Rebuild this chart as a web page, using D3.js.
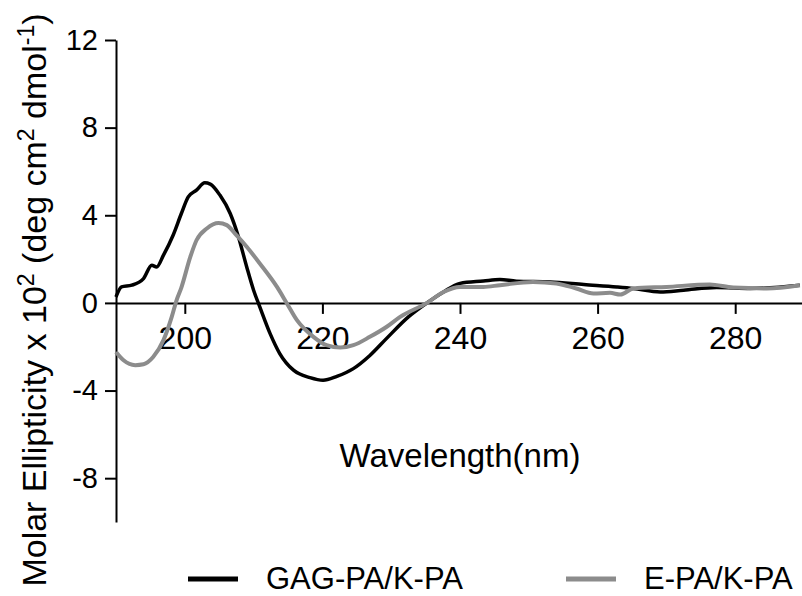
<!DOCTYPE html>
<html>
<head>
<meta charset="utf-8">
<script src="https://cdn.jsdelivr.net/npm/d3@7"></script>
<style>
  body { margin: 0; background: #fff; }
  svg { font-family: Arial, "Liberation Sans", sans-serif; }
</style>
</head>
<body>
<div id="chart"></div>
<script>
// series: wavelength (nm) and molar ellipticity (x10^2)
const gagWave = [190, 190.8, 192.3, 194, 195.2, 195.9, 196.9, 198.3, 199.5, 200.5, 201.7, 202.9, 203.7, 205.1, 206.6, 207.8, 209, 210, 210.9, 212.4, 213.8, 215.8, 218.2, 220.1, 222.1, 224.5, 226.9, 229.3, 232.5, 235.2, 237.6, 240, 243.4, 245.8, 248.2, 253.1, 258, 262.8, 265.2, 269.1, 272.5, 277.3, 282.2, 289.4];
const gagVal = [0.27, 0.73, 0.81, 1.11, 1.72, 1.64, 2.18, 3.09, 4.08, 4.84, 5.15, 5.48, 5.42, 4.92, 4.08, 3.01, 1.64, 0.58, -0.18, -1.4, -2.31, -3.07, -3.41, -3.53, -3.35, -3.0, -2.4, -1.63, -0.64, 0.0, 0.5, 0.89, 1.0, 1.07, 0.99, 0.96, 0.84, 0.73, 0.66, 0.5, 0.58, 0.7, 0.66, 0.81];

const epaWave = [190, 191.1, 192.8, 194, 195.4, 196.9, 198.1, 198.8, 199.5, 200.8, 201.7, 203.2, 204.9, 206.1, 207.5, 209, 210.9, 213.4, 214.8, 216.3, 218.7, 220.6, 222.6, 224.5, 226.9, 229.3, 231.3, 235.2, 237.6, 240, 243.4, 245.8, 250.6, 254, 256.9, 259.4, 261.8, 263.3, 265.2, 270, 276.3, 279.7, 284.6, 289.4];
const epaVal = [-2.24, -2.62, -2.84, -2.8, -2.47, -1.7, -0.64, 0.12, 0.7, 2.1, 2.86, 3.4, 3.65, 3.55, 3.09, 2.56, 1.8, 0.73, 0.0, -0.79, -1.55, -1.93, -2.04, -1.93, -1.55, -1.1, -0.64, 0.0, 0.5, 0.73, 0.73, 0.81, 0.96, 0.89, 0.66, 0.43, 0.46, 0.38, 0.66, 0.73, 0.84, 0.7, 0.66, 0.81];

const xTicks = [200, 220, 240, 260, 280];
const yTicks = [-8, -4, 0, 4, 8, 12];
const seriesNames = ["GAG-PA/K-PA", "E-PA/K-PA"];
const seriesColors = ["#000000", "#8c8c8c"];

const W = 802, H = 596;
const svg = d3.select("#chart").append("svg")
    .attr("width", W)
    .attr("height", H);

const x = d3.scaleLinear().domain([190, 290]).range([116, 804]);
const y = d3.scaleLinear().domain([-10, 12]).range([522, 40]);

// y axis
const yAxis = svg.append("g")
    .attr("transform", "translate(116,0)")
    .call(d3.axisLeft(y).tickValues(yTicks).tickFormat(d => String(d))
        .tickSize(11).tickPadding(7).tickSizeOuter(0));
yAxis.select(".domain").attr("stroke-width", 2);
yAxis.selectAll(".tick line").attr("stroke-width", 2);
yAxis.selectAll("text").style("font-size", "29px").attr("fill", "#000");

// x axis at y = 0
const xAxis = svg.append("g")
    .attr("transform", `translate(0,${y(0)})`)
    .call(d3.axisBottom(x).tickValues(xTicks).tickFormat(d => String(d))
        .tickSize(11).tickPadding(12).tickSizeOuter(0));
xAxis.select(".domain").attr("stroke-width", 2);
xAxis.selectAll(".tick line").attr("stroke-width", 2);
xAxis.selectAll("text").style("font-size", "32px").attr("fill", "#000");

// lines
const line = d3.line()
    .x(d => x(d[0]))
    .y(d => y(d[1]))
    .curve(d3.curveMonotoneX);

const gagData = gagWave.map((w, i) => [w, gagVal[i]]);
const epaData = epaWave.map((w, i) => [w, epaVal[i]]);

svg.append("path")
    .datum(gagData)
    .attr("fill", "none")
    .attr("stroke", seriesColors[0])
    .attr("stroke-width", 3.5)
    .attr("stroke-linejoin", "round")
    .attr("d", line);

svg.append("path")
    .datum(epaData)
    .attr("fill", "none")
    .attr("stroke", seriesColors[1])
    .attr("stroke-width", 4)
    .attr("stroke-linejoin", "round")
    .attr("d", line);

// x label
svg.append("text")
    .attr("x", 460)
    .attr("y", 467)
    .attr("text-anchor", "middle")
    .style("font-size", "33px")
    .text("Wavelength(nm)");

// y label
const yt = svg.append("text")
    .attr("transform", "translate(46,300) rotate(-90)")
    .attr("text-anchor", "middle")
    .style("font-size", "34px");
yt.append("tspan").text("Molar Ellipticity x 10");
yt.append("tspan").attr("dy", -12).style("font-size", "23px").text("2");
yt.append("tspan").attr("dy", 12).text(" (deg cm");
yt.append("tspan").attr("dy", -12).style("font-size", "23px").text("2");
yt.append("tspan").attr("dy", 12).text(" dmol");
yt.append("tspan").attr("dy", -12).style("font-size", "23px").text("-1");
yt.append("tspan").attr("dy", 12).text(")");

// legend
const legX = [188, 566];
const leg = svg.append("g");
seriesNames.forEach((name, i) => {
    leg.append("line")
        .attr("x1", legX[i]).attr("x2", legX[i] + 50)
        .attr("y1", 579).attr("y2", 579)
        .attr("stroke", seriesColors[i])
        .attr("stroke-width", 5);
    leg.append("text")
        .attr("x", legX[i] + 78)
        .attr("y", 589)
        .style("font-size", "31px")
        .text(name);
});
</script>
</body>
</html>
